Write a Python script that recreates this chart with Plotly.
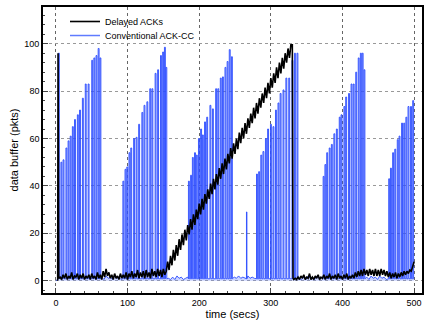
import numpy as np
import plotly.graph_objects as go

# ---------------- data ----------------
# Conventional ACK-CC: spike bursts (time of spike, peak value)
burst_t = [
    3.5,
    7, 10, 14, 17, 20, 23, 26, 30, 33, 37, 41, 45, 50, 53, 56, 59, 61.5,
    93.5, 96.5, 99, 102, 104.5, 108.5, 112, 115.5, 120, 123, 127, 131, 134, 138.5, 142, 146, 149, 151.5, 153.5,
    185, 188, 190.5, 193.5, 196, 199, 202, 204.5, 207.5, 210.5, 215, 218.5, 223, 226, 229.5, 232.5, 236, 239, 242, 245,
    266,
    280, 283, 286, 289, 292.5, 295.5, 299.5, 303, 306.5, 310, 313, 317, 321, 325, 329.5, 333, 336.5,
    373, 375.5, 378, 381.5, 384.5, 388, 391.5, 395.5, 398, 402, 404.5, 408.5, 412, 415, 418.5, 422, 425, 427.5, 430,
    464.5, 467, 470, 473, 476.5, 479, 482.5, 485.5, 488.5, 491.5, 495, 498,
]
burst_peak = [
    96,
    50, 51, 56, 59, 61, 65, 68, 70, 72, 77, 83, 83, 93, 94, 95, 98, 94,
    42, 47, 48, 54, 56, 60, 60.5, 66, 71, 74, 75.5, 81, 81, 87.5, 89, 95, 96.5, 98.5, 90,
    42, 44.5, 52, 54, 53, 60, 64, 61.5, 67, 69, 74, 72.5, 81, 81, 85.5, 86, 90, 92.5, 97.5, 94.5,
    29,
    45, 46, 53, 54.5, 60, 64, 66, 65, 72, 75, 79, 80.5, 85.5, 85.5, 93, 96, 96,
    44, 49, 54, 56, 57.5, 62, 64, 69, 70, 73.5, 77.5, 79, 83, 83, 88, 94, 96, 96, 89,
    43, 47.5, 54, 55.5, 59.5, 61, 66.5, 66.5, 69, 73.5, 73.5, 76,
]
# Conventional ACK-CC: baseline between bursts
gap_t = [0, 2, 5,
         64, 67, 70, 73, 76, 79, 82, 85, 88, 91,
         157, 160, 163, 166, 169, 172, 175, 178, 181, 184,
         249, 252, 255, 258, 261, 264, 268, 271, 274, 277,
         340, 343, 346, 349, 352, 355, 358, 361, 364, 367, 370,
         434, 437, 440, 443, 446, 449, 452, 455, 458, 461,
         500]
gap_v = [0, 0.5, 1,
         1.5, 0.5, 2, 1, 1.5, 0.5, 2, 1, 1.5, 0.5,
         1, 0.5, 1.5, 0.5, 2, 1, 1.5, 0.5, 1, 1.5,
         1.5, 1, 2, 1, 1.5, 1, 2, 1, 1.5, 1,
         1, 0.5, 1.5, 0.5, 2, 1, 1.5, 0.5, 2, 1, 1.5,
         1.5, 0.5, 2, 1, 1.5, 0.5, 2, 1, 1.5, 0.5,
         1]

# Delayed ACKs
delayed_start_t = [2.5, 3, 4]
delayed_start_v = [0, 96, 1]
delayed_a_v = [1.5, 0.5, 2.5, 1, 3, 0.5, 2, 1, 3.5, 0.5, 2, 1.5, 3, 0.5, 2.5, 1, 3, 0.5, 2, 1,
               2.5, 0.5, 3, 1, 2, 0.5, 3.5, 1, 2.5, 0.5, 4, 1.5, 5, 2, 3.5, 1, 2.5, 0.5, 3, 1,
               2, 0.5, 3, 1, 2.5, 1, 3.5, 0.5, 3, 1.5, 4, 1, 3, 1.5, 4.5, 1, 3.5, 1.5, 4, 1,
               4.5, 1.5, 3.5, 1, 5, 2, 4, 1.5, 5, 2, 4.5, 1.5, 5, 2.5, 4]          # t = 6..154
delayed_b_v = [8, 4.5, 10.5, 6.5, 13, 8.5, 15, 10.5, 17.5, 13, 19.5, 15, 21.5, 17, 23.5, 19.5,
               26, 21.5, 28, 23.5, 30, 26, 32.5, 28, 34.5, 30, 36.5, 32.5, 38.5, 34.5, 41, 36.5,
               43, 38.5, 45, 40.5, 47.5, 43, 49.5, 45, 51.5, 47, 53.5, 49.5, 56, 51.5, 58, 53.5,
               60, 55.5, 62.5, 58, 64.5, 60, 66.5, 62, 68.5, 64.5, 70.5, 66.5, 73, 68.5, 75, 70.5,
               77, 73, 79, 75, 81.5, 77, 83.5, 79, 85.5, 81.5, 87.5, 83.5, 90, 85.5, 92, 87.5,
               94, 89.5, 96, 92, 98, 94, 99.5, 99.5]                                # t = 156..330
delayed_c_v = [1, 0.5, 1, 0.5, 1.5, 0.5, 2, 1, 2.5, 0.5, 1.5, 1, 3, 0.5, 1.5, 0.5, 2, 1, 2.5, 0.5, 1.5,
               1, 2.5, 0.5, 2, 1, 3, 0.5, 2, 1, 2.5, 0.5, 3, 1, 2, 0.5, 2.5, 1, 3, 0.5, 2,
               1, 2.5, 1, 3.5, 1.5, 4, 2, 4.5, 2, 5, 2.5, 4.5, 2, 5, 2.5, 4.5, 2, 5, 2, 4.5,
               2, 5, 2.5, 4.5, 2, 4, 1.5, 3.5, 1, 3, 1.5, 3.5, 1, 3, 1.5, 3.5, 2, 4, 2.5, 4,
               3, 4.5, 4, 6, 8]                                                     # t = 331, 332..500

x_ticks = [0, 100, 200, 300, 400, 500]
y_ticks = [0, 20, 40, 60, 80, 100]

# ---------------- build the traces ----------------
spike_w = 1.3
low = 0.8
events = []
for t, v in zip(gap_t, gap_v):
    events.append((t, [(t, v)]))
for t, p in zip(burst_t, burst_peak):
    w = 0.6 if p < 35 else spike_w
    events.append((t, [(t, low), (t, p), (t + w, p), (t + w, low)]))
events.sort(key=lambda e: e[0])
blue_x = [pt[0] for _, pts in events for pt in pts]
blue_y = [pt[1] for _, pts in events for pt in pts]

black_x = (list(delayed_start_t) + list(np.arange(6, 155, 2)) + list(np.arange(156, 331, 2))
           + [331] + list(np.arange(332, 501, 2)))
black_y = delayed_start_v + delayed_a_v + delayed_b_v + delayed_c_v
assert len(black_x) == len(black_y), (len(black_x), len(black_y))

BLUE = "#2b4cff"
fig = go.Figure()
fig.add_trace(go.Scatter(
    x=blue_x, y=blue_y, mode="lines", name="Conventional ACK-CC",
    line=dict(color=BLUE, width=0.9), fill="tozeroy",
    fillcolor="rgba(120,145,255,0.38)", showlegend=False,
))
fig.add_trace(go.Scatter(
    x=black_x, y=black_y, mode="lines", name="Delayed ACKs",
    line=dict(color="black", width=1.6), legend="legend",
))
# legend entry for the blue series drawn as a plain line
fig.add_trace(go.Scatter(
    x=[None], y=[None], mode="lines", name="Conventional ACK-CC",
    line=dict(color="#5f7bff", width=1.5), legend="legend2",
))

font = "Liberation Sans, Arial, sans-serif"
leg = dict(xanchor="left", yanchor="top", bgcolor="rgba(0,0,0,0)",
           font=dict(size=9), itemwidth=30)
fig.update_layout(
    width=424, height=321,
    margin=dict(l=43, r=0, t=7, b=28),
    paper_bgcolor="white", plot_bgcolor="white",
    font=dict(family=font, size=9, color="black"),
    showlegend=True,
    legend=dict(x=0.058, y=1.0, **leg),
    legend2=dict(x=0.058, y=0.951, **leg),
    xaxis=dict(
        range=[-18, 511], tickvals=x_ticks, ticks="inside", ticklen=5, tickwidth=1,
        showline=True, linecolor="black", linewidth=1.6, mirror=True,
        showgrid=True, gridcolor="#666", griddash="dot", gridwidth=1,
        zeroline=False,
        minor=dict(dtick=20, tick0=0, ticks="inside", ticklen=2.5, showgrid=False),
        title=dict(text="time (secs)", font=dict(size=11), standoff=2),
    ),
    yaxis=dict(
        range=[-5.2, 115.5], tickvals=y_ticks, ticks="inside", ticklen=5, tickwidth=1,
        showline=True, linecolor="black", linewidth=1.6, mirror=True,
        showgrid=True, gridcolor="#999", griddash="dot", gridwidth=1,
        zeroline=False,
        minor=dict(dtick=4, tick0=0, ticks="inside", ticklen=2.5, showgrid=False),
        title=dict(text="data buffer (pkts)", font=dict(size=11), standoff=4),
    ),
)

fig.write_html("out.html")
